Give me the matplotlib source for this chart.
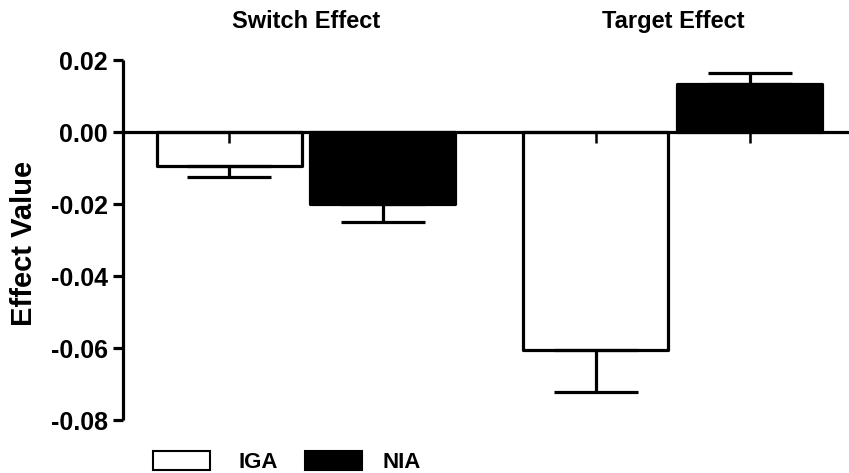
import matplotlib
matplotlib.use("Agg")
import matplotlib.pyplot as plt
from matplotlib.patches import Patch

plt.rcParams["font.family"] = ["Liberation Sans", "DejaVu Sans"]
plt.rcParams["font.weight"] = "bold"

# ---- data ----
groups = ["Switch Effect", "Target Effect"]
series = ["IGA", "NIA"]
iga_values = [-0.0094, -0.0606]
iga_errors = [0.0031, 0.0116]
nia_values = [-0.0200, 0.0133]
nia_errors = [0.0050, 0.0031]
yticks = [0.02, 0.00, -0.02, -0.04, -0.06, -0.08]

fig = plt.figure(figsize=(8.49, 4.73), dpi=100)
W, H = 849, 473
ax = fig.add_axes([123 / W, 1 - 420 / H, (849 - 123) / W, 360 / H])

group_x = [0.0, 2.53]
offset = 0.53
width = 1.0
lw = 2.3

iga_x = [g - offset for g in group_x]
nia_x = [g + offset for g in group_x]

ax.bar(iga_x, iga_values, width=width, color="white", edgecolor="black",
       linewidth=lw, joinstyle="round", zorder=1)
ax.bar(nia_x, nia_values, width=width, color="black", edgecolor="black",
       linewidth=lw, joinstyle="round", zorder=1)

# ---- one-sided error bars (away from zero) ----
for xs, vals, errs in [(iga_x, iga_values, iga_errors),
                       (nia_x, nia_values, nia_errors)]:
    for x, v, e in zip(xs, vals, errs):
        yerr = [[0], [e]] if v > 0 else [[e], [0]]
        ax.errorbar([x], [v], yerr=yerr, fmt="none", ecolor="black",
                    elinewidth=lw, capsize=30, capthick=lw, zorder=3)

# ---- axes ----
ax.set_xlim(-1.262, 3.745)
ax.set_ylim(-0.08, 0.02)
ax.set_yticks(yticks)
ax.set_yticklabels([f"{t:.2f}" for t in yticks])
ax.set_xticks(iga_x + nia_x)
ax.set_xticklabels([])

ax.spines["top"].set_visible(False)
ax.spines["right"].set_visible(False)
ax.spines["bottom"].set_position(("data", 0))
ax.spines["left"].set_linewidth(lw)
ax.spines["bottom"].set_linewidth(lw)
ax.spines["left"].set_capstyle("butt")

ax.tick_params(axis="y", direction="out", length=7, width=lw,
               labelsize=18, pad=4)
ax.tick_params(axis="x", direction="out", length=8, width=1.8)

ax.set_ylabel("Effect Value", fontsize=21, fontweight="bold")
ax.yaxis.set_label_coords(-0.117, 0.49)

# ---- group titles ----
for gx, name in zip(group_x, groups):
    ax.text(gx, 1.108, name, transform=ax.get_xaxis_transform(),
            ha="center", va="center", fontsize=17, fontweight="bold")

# ---- legend (one entry per box so the text gaps can differ) ----
legend_kw = dict(loc="lower left", frameon=False, fontsize=16,
                 handlelength=2.57, handleheight=0.95, borderpad=0.0,
                 borderaxespad=0.0)
fig.legend([Patch(facecolor="white", edgecolor="black", linewidth=1.5)],
           [series[0]], bbox_to_anchor=(153 / W, 0), handletextpad=1.3,
           **legend_kw)
fig.legend([Patch(facecolor="black", edgecolor="black", linewidth=1.5)],
           [series[1]], bbox_to_anchor=(305 / W, 0), handletextpad=0.9,
           **legend_kw)

fig.savefig("out.png", dpi=100)
